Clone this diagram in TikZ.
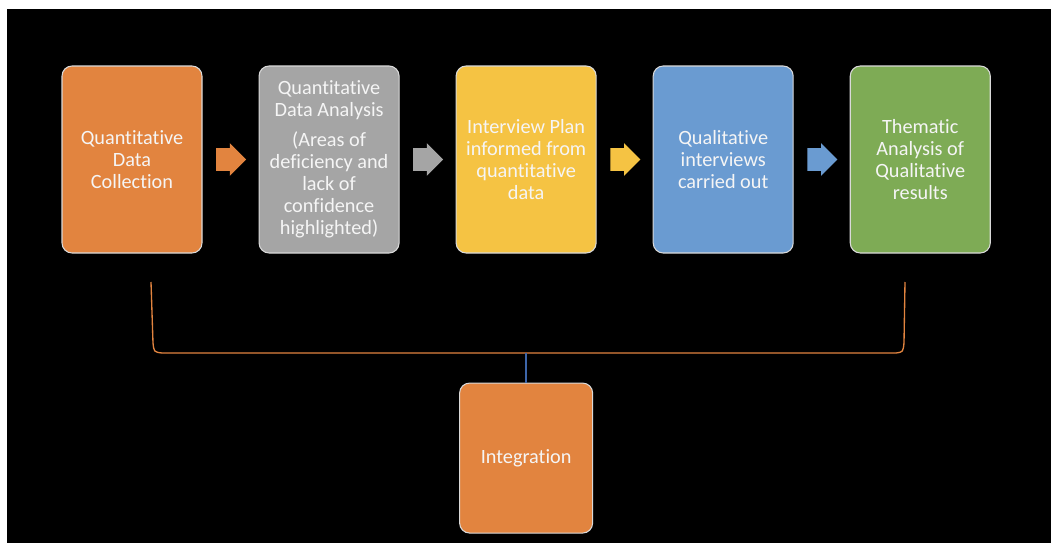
\documentclass[tikz,border=0pt]{standalone}
\usepackage{fontspec}
\setmainfont{Carlito}[Ligatures=NoCommon]
\usetikzlibrary{positioning,calc,shapes.arrows}
\definecolor{boxorange}{HTML}{E2843F}
\definecolor{boxgray}{HTML}{A5A5A5}
\definecolor{boxyellow}{HTML}{F5C343}
\definecolor{boxblue}{HTML}{6A9BD1}
\definecolor{boxgreen}{HTML}{7EAB55}
\definecolor{linkblue}{HTML}{3D66AA}

\begin{document}
\begin{tikzpicture}[x=0.75pt,y=-0.75pt]
	\tikzset{
		stage/.style={draw=white!85!black, line width=0.8pt, rounded corners=7.5pt,
			minimum width=105pt, minimum height=140.25pt, inner sep=2pt,
			align=center, text=white!96!black,
			font=\fontsize{15.2}{16.5}\selectfont},
		blockarrow/.style={single arrow, draw=none, inner xsep=0pt, inner ysep=8.25pt,
			minimum height=22.5pt, xshift=-3.75pt,
			single arrow head extend=3.75pt, single arrow head indent=0pt},
		bracket/.style={draw=boxorange, line width=1pt},
		link/.style={draw=linkblue, line width=1pt}
	}
	\useasboundingbox (0,0) rectangle (1051,543);
	\fill[white] (0,0) rectangle (1051,543);
	\fill[black] (7,9) rectangle (1051,543);

	\node[stage, fill=boxorange] (collect) at (132,159.5) {Quantitative\\Data\\Collection};
	\node[stage, fill=boxgray, right=42pt of collect] (analysis) {Quantitative\\Data Analysis\\[6pt](Areas of\\deficiency and\\lack of\\confidence\\highlighted)};
	\node[stage, fill=boxyellow, right=42pt of analysis] (plan) {Interview Plan\\informed from\\quantitative\\data};
	\node[stage, fill=boxblue, right=42pt of plan] (interviews) {Qualitative\\interviews\\carried out};
	\node[stage, fill=boxgreen, right=42pt of interviews] (thematic) {Thematic\\Analysis of\\Qualitative\\results};
	\node[stage, fill=boxorange, minimum width=99.75pt, minimum height=112.5pt,
		below=96.75pt of plan] (integ) {Integration};

	\node[blockarrow, fill=boxorange] (a1) at ($(collect.east)!0.5!(analysis.west)$) {};
	\node[blockarrow, fill=boxgray] (a2) at ($(analysis.east)!0.5!(plan.west)$) {};
	\node[blockarrow, fill=boxyellow] (a3) at ($(plan.east)!0.5!(interviews.west)$) {};
	\node[blockarrow, fill=boxblue] (a4) at ($(interviews.east)!0.5!(thematic.west)$) {};

	% bracket joining both ends
	\coordinate (bl) at (151,282);
	\coordinate (br) at (905,282);
	\coordinate (bm) at (integ.north |- 0,353);
	\draw[bracket] (bl) -- (153,343) .. controls (154,352) .. (162,353)
		-- (896,353) .. controls (903,352) .. (904,343) -- (br);
	\draw[link] (bm) -- (integ.north);
\end{tikzpicture}
\end{document}
